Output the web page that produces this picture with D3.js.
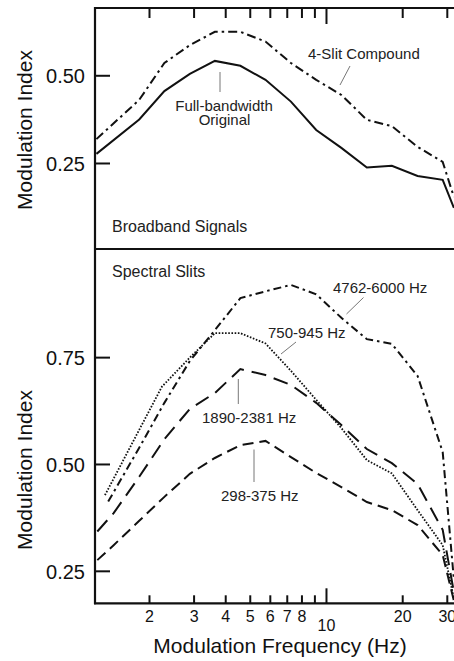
<!DOCTYPE html>
<html>
<head>
<meta charset="utf-8">
<script src="https://cdn.jsdelivr.net/npm/d3@7"></script>
<style>
  html, body { margin: 0; padding: 0; background: #fff; }
  svg { display: block; }
  text { font-family: "Liberation Sans", Arial, Helvetica, sans-serif; }
</style>
</head>
<body>
<svg id="chart" width="454" height="661"></svg>
<script>
// ---- data ----
const xTickValues = [2, 3, 4, 5, 6, 7, 8, 9, 10, 20, 30];
const xTickLabels = ["2", "3", "4", "5", "6", "7", "8", "", "10", "20", "30"];
const topYTicks = [0.25, 0.50];
const bottomYTicks = [0.25, 0.50, 0.75];

// Top panel: broadband signals
const fullHz   = [1.24, 1.83, 2.30, 2.90, 3.64, 4.59, 5.77, 7.27, 9.15, 11.5, 14.5, 18.2, 23.0, 28.9, 32.0];
const fullMI   = [0.276, 0.374, 0.455, 0.504, 0.541, 0.527, 0.487, 0.425, 0.344, 0.293, 0.237, 0.242, 0.213, 0.202, 0.122];
const compHz   = [1.24, 1.83, 2.30, 2.90, 3.64, 4.59, 5.77, 7.27, 9.15, 11.5, 14.5, 18.2, 23.0, 28.9, 32.0];
const compMI   = [0.318, 0.430, 0.535, 0.586, 0.624, 0.624, 0.596, 0.535, 0.487, 0.444, 0.373, 0.355, 0.296, 0.253, 0.153];

// Bottom panel: spectral slits
const s4762Hz  = [1.38, 1.83, 2.30, 2.90, 3.64, 4.59, 5.77, 7.27, 9.15, 11.5, 14.5, 18.2, 23.0, 28.9, 32.0];
const s4762MI  = [0.412, 0.538, 0.643, 0.741, 0.813, 0.888, 0.904, 0.919, 0.897, 0.842, 0.792, 0.781, 0.706, 0.528, 0.229];
const s750Hz   = [1.34, 1.83, 2.25, 2.90, 3.64, 4.59, 5.77, 7.27, 9.15, 11.5, 14.5, 18.2, 23.0, 28.9, 32.0];
const s750MI   = [0.427, 0.580, 0.681, 0.749, 0.806, 0.806, 0.782, 0.718, 0.650, 0.584, 0.509, 0.478, 0.392, 0.310, 0.185];
const s1890Hz  = [1.25, 1.45, 1.83, 2.30, 2.90, 3.64, 4.59, 5.77, 7.27, 9.15, 11.5, 14.5, 18.2, 23.0, 28.9, 32.0];
const s1890MI  = [0.342, 0.385, 0.470, 0.558, 0.629, 0.666, 0.722, 0.708, 0.685, 0.643, 0.591, 0.535, 0.502, 0.453, 0.346, 0.200];
const s298Hz   = [1.25, 1.45, 1.83, 2.30, 2.90, 3.64, 4.59, 5.77, 7.27, 9.15, 11.5, 14.5, 18.2, 23.0, 28.9, 32.0];
const s298MI   = [0.275, 0.310, 0.367, 0.423, 0.477, 0.514, 0.544, 0.554, 0.516, 0.479, 0.446, 0.411, 0.392, 0.357, 0.287, 0.180];

// ---- layout ----
const svg = d3.select("#chart");
const L = 95, R = 460, T = 8, MID = 249, B = 603.3;
const font = "'Liberation Sans', Arial, Helvetica, sans-serif";

const x = d3.scaleLog().domain([1.224, 32.03]).range([L, 454]);
const yTop = d3.scaleLinear().domain([0.0048, 0.6918]).range([MID, T]);
const yBot = d3.scaleLinear().domain([0.174, 1.003]).range([B, MID]);

const zip = (a, b) => a.map((d, i) => [d, b[i]]);

// ---- clip ----
const defs = svg.append("defs");
defs.append("clipPath").attr("id", "clipTop").append("rect")
  .attr("x", L).attr("y", T).attr("width", R - L).attr("height", MID - T);
defs.append("clipPath").attr("id", "clipBot").append("rect")
  .attr("x", L).attr("y", MID).attr("width", R - L).attr("height", B - MID);

// ---- series ----
function drawLine(yScale, hz, mi, dash, clip, width) {
  const line = d3.line().x(d => x(d[0])).y(d => yScale(d[1]));
  svg.append("path")
    .datum(zip(hz, mi))
    .attr("d", line)
    .attr("fill", "none")
    .attr("stroke", "#111")
    .attr("stroke-width", width || 2)
    .attr("stroke-dasharray", dash)
    .attr("clip-path", `url(#${clip})`);
}
drawLine(yTop, fullHz, fullMI, null, "clipTop");
drawLine(yTop, compHz, compMI, "9,4,2.5,4", "clipTop");
drawLine(yBot, s4762Hz, s4762MI, "8,4,2.5,4", "clipBot");
drawLine(yBot, s750Hz, s750MI, "1.6,1.6", "clipBot", 1.8);
drawLine(yBot, s1890Hz, s1890MI, "15,8", "clipBot");
drawLine(yBot, s298Hz, s298MI, "11,6", "clipBot");

// ---- frame ----
const frame = svg.append("g").attr("stroke", "#111").attr("stroke-width", 2.2).attr("fill", "none");
frame.append("line").attr("x1", L).attr("x2", L).attr("y1", T - 1).attr("y2", B + 1);
frame.append("line").attr("x1", L - 1).attr("x2", R).attr("y1", T).attr("y2", T);
frame.append("line").attr("x1", L).attr("x2", R).attr("y1", MID).attr("y2", MID);
frame.append("line").attr("x1", L - 1).attr("x2", R).attr("y1", B).attr("y2", B);

// ---- axes ----
function styleAxis(g) {
  g.select(".domain").remove();
  g.selectAll(".tick line").attr("stroke", "#111").attr("stroke-width", 2);
  g.selectAll(".tick text").attr("fill", "#111").attr("font-family", font);
}

// Left axes (ticks inward)
const yAxTop = d3.axisLeft(yTop).tickValues(topYTicks).tickFormat(d3.format(".2f"))
  .tickSizeInner(-15).tickSizeOuter(0).tickPadding(10);
svg.append("g").attr("transform", `translate(${L},0)`).call(yAxTop).call(styleAxis)
  .selectAll(".tick text").attr("font-size", 20).attr("dy", "0.36em");

const yAxBot = d3.axisLeft(yBot).tickValues(bottomYTicks).tickFormat(d3.format(".2f"))
  .tickSizeInner(-15).tickSizeOuter(0).tickPadding(10);
svg.append("g").attr("transform", `translate(${L},0)`).call(yAxBot).call(styleAxis)
  .selectAll(".tick text").attr("font-size", 20).attr("dy", "0.36em");

// Bottom x axis (ticks inward)
const xAxBot = d3.axisBottom(x).tickValues(xTickValues)
  .tickFormat((d, i) => xTickLabels[i]).tickSizeInner(-8).tickSizeOuter(0).tickPadding(7.6);
const gxb = svg.append("g").attr("transform", `translate(0,${B})`).call(xAxBot).call(styleAxis);
gxb.selectAll(".tick text").attr("font-size", 16);
gxb.selectAll(".tick").filter(d => d === 10).select("line").attr("y2", -15);
gxb.selectAll(".tick").filter(d => d === 10).select("text").attr("y", 16.6);

// Top x axis ticks (inward, no labels)
const xAxTop = d3.axisTop(x).tickValues(xTickValues).tickFormat("")
  .tickSizeInner(-10).tickSizeOuter(0);
const gxt = svg.append("g").attr("transform", `translate(0,${T})`).call(xAxTop).call(styleAxis);
gxt.selectAll(".tick").filter(d => d === 10).select("line").attr("y2", 16);

// ---- axis titles ----
svg.append("text").attr("x", 280).attr("y", 653).attr("text-anchor", "middle")
  .attr("font-size", 21).attr("fill", "#111").attr("font-family", font)
  .text("Modulation Frequency (Hz)");
[[130], [470]].forEach(([cy]) => {
  svg.append("text").attr("transform", `translate(31.5,${cy}) rotate(-90)`)
    .attr("text-anchor", "middle").attr("font-size", 21).attr("fill", "#111")
    .attr("font-family", font).text("Modulation Index");
});

// ---- annotations ----
function label(txt, x0, y0, size, fill) {
  svg.append("text").attr("x", x0).attr("y", y0).attr("font-size", size)
    .attr("fill", fill || "#222").attr("font-family", font).text(txt);
}
function leader(x1, y1, x2, y2) {
  svg.append("line").attr("x1", x1).attr("y1", y1).attr("x2", x2).attr("y2", y2)
    .attr("stroke", "#777").attr("stroke-width", 1);
}
label("Broadband Signals", 112, 232, 16);
label("Spectral Slits", 112, 277, 16);

label("4-Slit Compound", 308, 59, 15);
leader(350, 66, 340, 85);
svg.append("text").attr("x", 224).attr("y", 111).attr("text-anchor", "middle")
  .attr("font-size", 15).attr("fill", "#222").attr("font-family", font).text("Full-bandwidth");
svg.append("text").attr("x", 224.5).attr("y", 125).attr("text-anchor", "middle")
  .attr("font-size", 15).attr("fill", "#222").attr("font-family", font).text("Original");
leader(220, 72, 220, 92);

label("4762-6000 Hz", 333, 293, 15);
leader(363.5, 297.5, 346.5, 314);
label("750-945 Hz", 268, 338, 15);
leader(296, 342, 281, 354);
label("1890-2381 Hz", 202, 423, 15);
leader(238.3, 379, 238.3, 404);
label("298-375 Hz", 221, 500.5, 15);
leader(254, 449.5, 254, 482);
</script>
</body>
</html>
